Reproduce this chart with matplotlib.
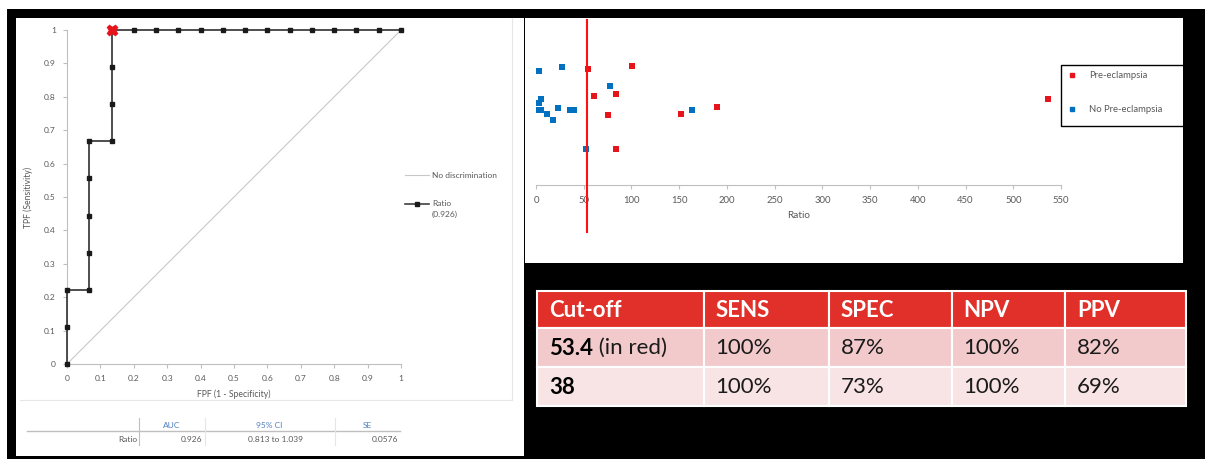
import matplotlib
matplotlib.use("Agg")
import matplotlib.pyplot as plt
from matplotlib.patches import Rectangle
from matplotlib.lines import Line2D
import numpy as np

plt.rcParams['font.family'] = ['Lato', 'DejaVu Sans']

W, H = 1205, 459

# ---------------- data ----------------
roc_fpf = [0, 0, 0, 1/15, 1/15, 1/15, 1/15, 1/15, 2/15, 2/15, 2/15, 2/15,
           3/15, 4/15, 5/15, 6/15, 7/15, 8/15, 9/15, 10/15, 11/15, 12/15, 13/15, 14/15, 1.0]
roc_tpf = [0, 1/9, 2/9, 2/9, 3/9, 4/9, 5/9, 6/9, 6/9, 7/9, 8/9, 1.0,
           1, 1, 1, 1, 1, 1, 1, 1, 1, 1, 1, 1, 1]
cutoff_point = (2/15, 1.0)
roc_ticks = [0, 0.1, 0.2, 0.3, 0.4, 0.5, 0.6, 0.7, 0.8, 0.9, 1]
roc_tick_labels = ["0", "0.1", "0.2", "0.3", "0.4", "0.5", "0.6", "0.7", "0.8", "0.9", "1"]

stat_headers = ["AUC", "95% CI", "SE"]
stat_row = ["Ratio", "0.926", "0.813 to 1.039", "0.0576"]

pe_ratio = [54.8, 101, 61, 84, 75.5, 84, 152, 190, 536]
pe_level = [116, 119, 89, 91, 70, 36, 71, 78, 86]
nope_ratio = [3, 27, 77.5, 5, 3.5, 0.5, 2.5, 5.5, 22.7, 11, 18, 36, 40, 52.4, 163.5]
nope_level = [114, 118, 99, 86, 82, 75, 75, 75, 77, 71, 65, 75, 75, 36, 75]
cutoff_value = 53.4
ratio_ticks = list(range(0, 551, 50))

table_header = ["Cut-off", "SENS", "SPEC", "NPV", "PPV"]
table_rows = [
    [("53.4", " (in red)"), "100%", "87%", "100%", "82%"],
    [("38", ""), "100%", "73%", "100%", "69%"],
]

RED = '#E8141B'
BLUE = '#0070C0'
GRID_GRAY = '#BFBFBF'
TXT_GRAY = '#595959'


def fx(x):
    return x / W


def fy(y):
    return 1 - y / H


fig = plt.figure(figsize=(W / 100, H / 100), dpi=100, facecolor='white')


def rect(x0, y0, x1, y1, color, ec='none', lw=0, z=0):
    fig.add_artist(Rectangle((fx(x0), fy(y1)), (x1 - x0) / W, (y1 - y0) / H,
                             transform=fig.transFigure, facecolor=color,
                             edgecolor=ec, linewidth=lw, zorder=z))


def hline(x0, x1, y, color, lw=1, z=1):
    fig.add_artist(Line2D([fx(x0), fx(x1)], [fy(y), fy(y)], transform=fig.transFigure,
                          color=color, lw=lw, zorder=z))


def vline(x, y0, y1, color, lw=1, z=1):
    fig.add_artist(Line2D([fx(x), fx(x)], [fy(y0), fy(y1)], transform=fig.transFigure,
                          color=color, lw=lw, zorder=z))


# background frame
rect(7, 9, 1205, 459, 'black', z=-10)
rect(16, 18, 524, 456, 'white', z=-9)
rect(525, 18, 1183, 263, 'white', z=-9)
# faint chart-area borders (Excel)
vline(512, 18, 400, '#E6E6E6', lw=0.8, z=-8)
hline(20, 512, 400, '#E6E6E6', lw=0.8, z=-8)

# ---------------- ROC plot ----------------
ax = fig.add_axes([fx(67), fy(364), (401 - 67) / W, (364 - 30) / H])
ax.set_facecolor('none')
ax.set_xlim(0, 1)
ax.set_ylim(0, 1)
for s in ['top', 'right']:
    ax.spines[s].set_visible(False)
for s in ['left', 'bottom']:
    ax.spines[s].set_color(GRID_GRAY)
    ax.spines[s].set_linewidth(0.8)
ax.set_xticks(roc_ticks)
ax.set_xticklabels(roc_tick_labels)
ax.set_yticks(roc_ticks)
ax.set_yticklabels(roc_tick_labels)
ax.tick_params(axis='both', colors=GRID_GRAY, labelcolor=TXT_GRAY, labelsize=6,
               length=3, width=0.8, pad=5)
ax.set_xlabel("FPF (1 - Specificity)", fontsize=6.2, color=TXT_GRAY, labelpad=5)
ax.set_ylabel("TPF (Sensitivity)", fontsize=6.2, color=TXT_GRAY, labelpad=8)
ax.plot([0, 1], [0, 1], color='#C8C8C8', lw=0.8, clip_on=False, zorder=2)
ax.plot(roc_fpf, roc_tpf, color='#404040', lw=1.3, marker='s', markersize=3,
        markerfacecolor='#1A1A1A', markeredgecolor='#1A1A1A', clip_on=False, zorder=3)
ax.plot([cutoff_point[0]], [cutoff_point[1]], marker='X', markersize=7.5, color=RED,
        markeredgecolor=RED, clip_on=False, zorder=4)

# ROC legend
fig.add_artist(Line2D([fx(405), fx(429)], [fy(175), fy(175)], transform=fig.transFigure,
                      color='#C8C8C8', lw=0.8))
fig.text(fx(432), fy(175), "No discrimination", fontsize=6, color=TXT_GRAY, va='center')
fig.add_artist(Line2D([fx(405), fx(429)], [fy(204), fy(204)], transform=fig.transFigure,
                      color='#404040', lw=1.2))
fig.add_artist(Line2D([fx(417)], [fy(204)], transform=fig.transFigure, marker='s',
                      markersize=2.8, color='#1A1A1A'))
fig.text(fx(432), fy(204), "Ratio", fontsize=6, color=TXT_GRAY, va='center')
fig.text(fx(432), fy(214), "(0.926)", fontsize=6, color=TXT_GRAY, va='center')

# ROC statistics table
HDR_BLUE = '#4F7FC0'
hline(27, 400, 431, '#BFBFBF', lw=1)
vline(139, 418, 445, '#BFBFBF', lw=0.8)
vline(205, 418, 445, '#E6E6E6', lw=0.8)
vline(335, 418, 445, '#E6E6E6', lw=0.8)
for txt, xc in zip(stat_headers, [172, 269, 367]):
    fig.text(fx(xc), fy(425), txt, fontsize=6, color=HDR_BLUE, ha='center', va='center')
fig.text(fx(137), fy(439), stat_row[0], fontsize=6, color=TXT_GRAY, ha='right', va='center')
fig.text(fx(202), fy(439), stat_row[1], fontsize=6, color=TXT_GRAY, ha='right', va='center')
fig.text(fx(276), fy(439), stat_row[2], fontsize=6, color=TXT_GRAY, ha='center', va='center')
fig.text(fx(398), fy(439), stat_row[3], fontsize=6, color=TXT_GRAY, ha='right', va='center')

# ---------------- Scatter plot ----------------
ax2 = fig.add_axes([fx(536), fy(185), (1061 - 536) / W, (185 - 20) / H])
ax2.set_facecolor('none')
ax2.set_xlim(0, 550)
ax2.set_ylim(0, 165)
for s in ['top', 'right', 'left']:
    ax2.spines[s].set_visible(False)
ax2.spines['bottom'].set_color(GRID_GRAY)
ax2.spines['bottom'].set_linewidth(0.8)
ax2.set_yticks([])
ax2.set_xticks(ratio_ticks)
ax2.tick_params(axis='x', colors=GRID_GRAY, labelcolor=TXT_GRAY, labelsize=6.8,
                length=3, width=0.8, pad=5)
ax2.set_xlabel("Ratio", fontsize=7.2, color=TXT_GRAY, labelpad=4)
ax2.scatter(pe_ratio, pe_level, marker='s', s=14, color=RED, linewidths=0,
            zorder=3, label='Pre-eclampsia')
ax2.scatter(nope_ratio, nope_level, marker='s', s=14, color=BLUE, linewidths=0,
            zorder=3, label='No Pre-eclampsia')
ax2.axvline(cutoff_value, ymin=-(232 - 185) / 165, ymax=1, color='#FF1010', lw=1.5,
            clip_on=False, zorder=4)

# scatter legend (box cut by panel edge)
rect(1061, 65, 1184, 126, 'white', ec='black', lw=1.0, z=5)
fig.add_artist(Line2D([fx(1072)], [fy(75)], transform=fig.transFigure, marker='s',
                      markersize=3.4, color=RED, zorder=6))
fig.add_artist(Line2D([fx(1072)], [fy(109)], transform=fig.transFigure, marker='s',
                      markersize=3.4, color=BLUE, zorder=6))
fig.text(fx(1089), fy(75), "Pre-eclampsia", fontsize=6.8, color=TXT_GRAY, va='center', zorder=6)
fig.text(fx(1089), fy(109), "No Pre-eclampsia", fontsize=6.8, color=TXT_GRAY, va='center', zorder=6)
rect(1183, 18, 1205, 263, 'black', z=7)

# ---------------- Cut-off table ----------------
col_edges = [537, 703.5, 829, 951.5, 1065, 1186]
row_edges = [291, 328, 366.5, 406]
row_colors = ['#E1302A', '#F2CACB', '#F8E4E4']
rect(col_edges[0] - 1, row_edges[0] - 1, col_edges[-1] + 1, row_edges[-1] + 1,
     '#9A9A9A', z=1)
for r in range(3):
    for c in range(5):
        rect(col_edges[c], row_edges[r], col_edges[c + 1], row_edges[r + 1],
             row_colors[r], ec='white', lw=1.5, z=2)

pad = 12
FS = 16
for c, txt in enumerate(table_header):
    fig.text(fx(col_edges[c] + pad), fy((row_edges[0] + row_edges[1]) / 2 + 1), txt,
             fontsize=FS, fontweight='bold', color='white', va='center', zorder=3)

fig.canvas.draw()
for r, row in enumerate(table_rows):
    yc = fy((row_edges[r + 1] + row_edges[r + 2]) / 2 + 1)
    bold_part, rest = row[0]
    t = fig.text(fx(col_edges[0] + pad), yc, bold_part, fontsize=FS, fontweight='bold',
                 color='black', va='center', zorder=3)
    if rest:
        fig.canvas.draw()
        bb = t.get_window_extent()
        fig.text(bb.x1 / W, yc, rest, fontsize=FS, fontweight='normal', color='#1A1A1A',
                 va='center', zorder=3)
    for c in range(1, 5):
        fig.text(fx(col_edges[c] + pad), yc, row[c], fontsize=FS, fontweight='normal',
                 color='#1A1A1A', va='center', zorder=3)

fig.savefig("out.png", dpi=100, facecolor='white')
